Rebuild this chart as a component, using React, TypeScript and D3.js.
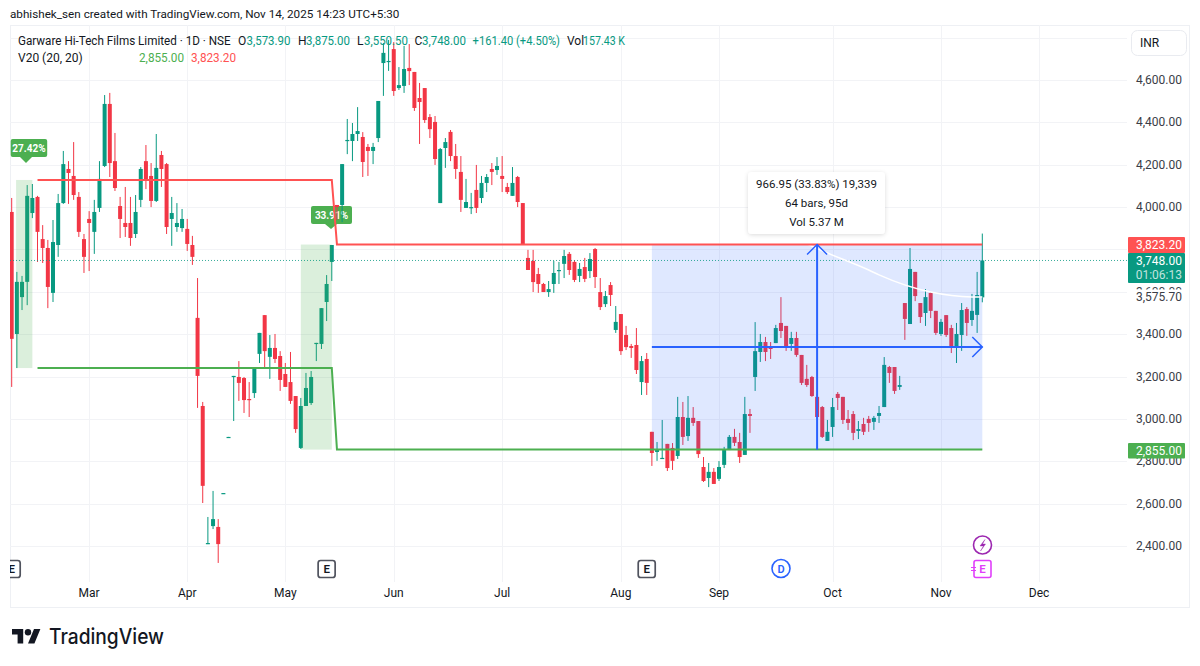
import React from "react";
import * as d3 from "d3";

const opens = [3977,3401,3575,3647,3972,4048,3849,3807,3595,3821,
4019,4180,4147,4048,3849,3944,3883,3996,4194,4487,
4217,4005,3925,3925,3873,4034,4217,4147,4029,4246,
4203,3944,3906,3901,3897,3821,3477,3061,2409,2494,
2490,2648,2913,3198,3198,3193,3094,3122,3307,3490,
3293,3335,3297,3212,3174,3108,2863,3061,3075,3354,
3354,3552,3741,4010,4010,4312,4312,4345,4331,4284,
4265,4326,4680,4685,4746,4562,4572,4657,4638,4515,
4562,4425,4402,4019,4279,4355,4241,4166,3996,3996,
4081,4043,4114,4180,4175,4147,4095,4053,4142,4019,
3760,3746,3684,3637,3599,3637,3698,3732,3779,3741,
3675,3717,3698,3802,3599,3542,3632,3420,3495,3396,
3344,3349,3174,3283,2939,2844,2811,2882,2863,2825,
3009,2919,3005,2990,2773,2721,2750,2717,2783,2853,
2915,2891,2830,3023,3198,3316,3363,3340,3358,3453,
3439,3354,3382,3302,3189,3198,3104,3056,2896,2962,
3118,3104,3000,3023,2943,2976,3000,2986,3014,3056,
3245,3245,3151,3547,3448,3694,3547,3500,3595,3510,
3401,3490,3429,3335,3396,3519,3467,3491,3573.9];

const closes = [3378,3647,3647,4053,4043,3883,3807,3623,3835,4019,
4203,4161,4057,3883,3765,3925,3977,4133,4487,4208,
4090,3944,3906,3854,3977,4180,4128,4029,4185,4180,
3906,3972,3925,3944,3826,3765,3203,2684,2414,2527,
2409,2650,2915,3203,3170,3089,3089,3240,3406,3320,
3335,3283,3184,3151,3085,2952,3061,3146,3198,3359,
3523,3637,3821,4000,4203,4317,4345,4359,4213,4265,
4284,4501,4728,4690,4548,4576,4652,4642,4468,4496,
4411,4368,4227,4274,4307,4241,4180,4034,4024,4000,
3996,4114,4142,4166,4194,4133,4071,4114,4024,3821,
3703,3646,3637,3599,3613,3689,3703,3769,3703,3656,
3708,3661,3755,3670,3528,3580,3585,3458,3320,3339,
3335,3231,3273,3170,2839,2853,2816,2768,2802,3009,
2915,3005,2981,2834,2707,2750,2693,2773,2853,2915,
2887,2820,3023,3014,3320,3363,3316,3330,3429,3415,
3340,3382,3302,3170,3160,3108,3009,2915,2939,3056,
3099,2995,2981,2934,2952,2939,2981,3005,3028,3255,
3217,3132,3160,3472,3708,3580,3481,3575,3510,3406,
3458,3396,3340,3401,3514,3453,3510,3585,3748];

const highs = [4043,3694,3675,4104,4109,4053,3915,3845,3939,4062,
4265,4217,4307,4071,3873,3981,4034,4217,4529,4539,
4350,4048,4095,4048,4057,4189,4293,4208,4345,4265,
4208,4048,4019,3991,3944,3864,3665,3080,2537,2660,
2527,2650,2915,3203,3273,3198,3174,3240,3406,3490,
3396,3401,3320,3264,3316,3108,3099,3217,3226,3359,
3523,3679,3821,4010,4203,4416,4397,4472,4354,4298,
4303,4501,4775,4789,4779,4661,4761,4770,4638,4586,
4562,4439,4430,4279,4326,4364,4298,4241,4133,4067,
4199,4147,4156,4208,4236,4241,4114,4189,4147,4019,
3798,3798,3713,3642,3651,3746,3741,3798,3788,3750,
3736,3760,3783,3807,3665,3604,3646,3533,3495,3439,
3354,3429,3297,3311,2939,2891,2995,2882,2886,3104,
3080,3108,3056,2990,2820,2792,2768,2801,2868,2924,
2953,2934,3104,3047,3457,3401,3387,3363,3444,3575,
3439,3411,3411,3302,3255,3203,3118,3061,2995,3099,
3127,3104,3042,3037,2990,3005,3014,3014,3061,3292,
3250,3245,3203,3547,3807,3694,3547,3613,3599,3510,
3472,3490,3444,3453,3547,3528,3590,3694,3875];

const lows = [3151,3240,3514,3537,3948,3741,3736,3523,3552,3765,
4015,4015,4034,3859,3689,3698,3779,3977,4189,4142,
4076,3854,3859,3817,3854,4000,4085,4000,4024,4095,
3873,3817,3883,3883,3793,3727,3052,2603,2409,2480,
2320,2648,2913,2990,3085,3028,3009,3099,3264,3240,
3189,3264,3132,3151,3071,2934,2858,3061,3066,3273,
3330,3462,3651,3939,3929,4250,4217,4312,4142,4147,
4203,4307,4525,4643,4525,4553,4539,4576,4454,4298,
4397,4326,4199,4019,4185,4217,4133,3977,3996,3967,
3972,4019,4071,4104,4152,4071,4062,4053,4000,3821,
3703,3599,3595,3599,3576,3595,3637,3665,3680,3646,
3646,3646,3665,3618,3514,3528,3533,3406,3302,3325,
3288,3212,3113,3113,2778,2802,2811,2754,2759,2811,
2877,2896,2967,2816,2702,2678,2693,2707,2768,2853,
2872,2792,2830,2934,3132,3269,3273,3283,3358,3382,
3321,3321,3293,3160,3151,3104,3000,2910,2896,2915,
3042,2976,2948,2900,2905,2924,2939,2948,2981,3056,
3170,3118,3137,3373,3448,3556,3453,3439,3476,3396,
3392,3387,3311,3264,3321,3392,3439,3406,3550.5];

const priceTicks = [4800,4600,4400,4200,4000,3800,3600,3400,3200,3000,2800,2600,2400];
const hiddenLabels = [4800,3800];
const monthLabels = ["Mar","Apr","May","Jun","Jul","Aug","Sep","Oct","Nov","Dec"];
const monthBars = [15,34,53,74,95,118,137,159,180,199];
const upperLevelBars = [5,62,63,188];
const upperLevelPrices = [4128,4128,3823.2,3823.2];
const lowerLevelBars = [5,62,63,188];
const lowerLevelPrices = [3240,3240,2855,2855];
const curveBars = [142,150,158,166,168,178,186,188];
const curvePrices = [3930,3868,3783,3703,3680,3599,3576,3575.7];
const earningsBars = [0,61,123];
const lastPrice = 3748, upper = 3823.2, lower = 2855;
const headerParts: [string, number, string, number | undefined][] = [
  ["Garware Hi-Tech Films Limited · 1D · NSE", 18, "#131722", 212.6],
  ["O", 238, "#131722", undefined], ["3,573.90", 246.5, "#089981", 44],
  ["H", 298, "#131722", undefined], ["3,875.00", 306, "#089981", 44],
  ["L", 357, "#131722", undefined], ["3,550.50", 364, "#089981", 44],
  ["C", 414.5, "#131722", undefined], ["3,748.00", 422, "#089981", 44],
  ["+161.40 (+4.50%)", 472.6, "#089981", 87.4],
  ["Vol", 567, "#131722", undefined], ["157.43 K", 583, "#089981", 42],
];
const tooltipLines = ["966.95 (33.83%) 19,339", "64 bars, 95d", "Vol 5.37 M"];

const FONT = "Roboto, sans-serif";
const GREEN = "#089981", RED = "#F23645", LGREEN = "#4CAF50", LRED = "#FF5252", BLUE = "#2962FF", GRID = "#f2f3f6";

const x = d3.scaleLinear().domain([0, 188]).range([11.7, 982.3]);
const y = d3.scaleLinear().domain([2400, 4600]).range([546, 80]);
const fmt = d3.format(",.2f");

function levelPath(bars: number[], prices: number[]) {
  const gen = d3.line<number>().x((b) => x(b)).y((_, i) => y(prices[i]));
  return gen(bars) || "";
}
const curvePath = d3.line<number>().x((b) => x(b)).y((_, i) => y(curvePrices[i])).curve(d3.curveMonotoneX)(curveBars) || "";

function EBox({ cx, color, fill }: { cx: number; color: string; fill?: string }) {
  return (
    <g>
      <rect x={cx - 8.5} y={560.5} width={17} height={17} rx={2.5} fill="#fff" stroke={color} strokeWidth={1.7} />
      <text x={cx} y={573} textAnchor="middle" fontSize={11.5} fontWeight={600} fill={fill || "#131722"} fontFamily={FONT}>E</text>
    </g>
  );
}

function Callout({ bx, by, w, h, tip, tipY, label }: { bx: number; by: number; w: number; h: number; tip: number; tipY: number; label: string }) {
  return (
    <g>
      <rect x={bx} y={by} width={w} height={h} rx={2} fill={LGREEN} />
      <path d={`M${tip - 6},${by + h}L${tip},${tipY}L${tip + 6},${by + h}Z`} fill={LGREEN} />
      <text x={bx + w / 2} y={by + h / 2 + 3.5} textAnchor="middle" fontSize={10} fontWeight={700} fill="#fff" fontFamily={FONT}>{label}</text>
    </g>
  );
}

export default function App() {
  const cx156 = x(156);
  const midP = (upper + lower) / 2;
  return (
    <svg width={1200} height={666} style={{ position: "absolute", left: 0, top: 0, background: "#fff" }} fontFamily={FONT}>
      <defs>
        <clipPath id="pane"><rect x={10} y={25} width={1117} height={557} /></clipPath>
        <filter id="sh" x="-10%" y="-20%" width="120%" height="150%">
          <feDropShadow dx={0} dy={1} stdDeviation={2} floodColor="#000" floodOpacity={0.14} />
        </filter>
      </defs>
      <text x={10} y={18} fontSize={11.7} fill="#131722">abhishek_sen created with TradingView.com, Nov 14, 2025 14:23 UTC+5:30</text>
      <rect x={10.5} y={25.5} width={1179} height={582} fill="#fff" stroke="#eef0f4" />

      <g stroke={GRID} strokeWidth={1}>
        {priceTicks.map((p) => <line key={p} x1={10} x2={1127} y1={Math.round(y(p)) + 0.5} y2={Math.round(y(p)) + 0.5} />)}
        {monthBars.map((b) => <line key={b} x1={Math.round(x(b)) + 0.5} x2={Math.round(x(b)) + 0.5} y1={25} y2={582} />)}
      </g>

      <g clipPath="url(#pane)">
        <Callout bx={10.7} by={139} w={36.5} h={18} tip={26} tipY={163} label="27.42%" />
        <Callout bx={311} by={206} w={41} h={18} tip={331} tipY={229} label="33.91%" />

        {opens.map((o, i) => {
          const c = closes[i];
          const col = c >= o ? GREEN : RED;
          const top = y(Math.max(o, c));
          const bot = y(Math.min(o, c));
          return (
            <g key={i}>
              <line x1={x(i)} x2={x(i)} y1={y(highs[i])} y2={y(lows[i])} stroke={col} strokeWidth={1} />
              <rect x={x(i) - 2} y={top} width={4} height={Math.max(bot - top, 1.2)} fill={col} />
            </g>
          );
        })}

        <rect x={x(0.85)} y={y(4128)} width={x(4) - x(0.85)} height={y(3240) - y(4128)} fill={LGREEN} fillOpacity={0.2} />
        <rect x={x(56)} y={y(upper)} width={x(62) - x(56)} height={y(lower) - y(upper)} fill={LGREEN} fillOpacity={0.2} />
        <rect x={x(124)} y={y(upper)} width={x(188) - x(124)} height={y(lower) - y(upper)} fill={BLUE} fillOpacity={0.15} />

        <line x1={10} x2={1127} y1={y(lastPrice)} y2={y(lastPrice)} stroke={GREEN} strokeWidth={1} strokeDasharray="1 2" strokeOpacity={0.8} />

        <path d={curvePath} fill="none" stroke="#fff" strokeWidth={1.5} />
        <path d={levelPath(upperLevelBars, upperLevelPrices)} fill="none" stroke={LRED} strokeWidth={2} />
        <path d={levelPath(lowerLevelBars, lowerLevelPrices)} fill="none" stroke={LGREEN} strokeWidth={2} />

        <g stroke={BLUE} strokeWidth={2} fill="none">
          <line x1={x(124)} x2={x(188)} y1={y(midP)} y2={y(midP)} />
          <path d={`M${x(188) - 10},${y(midP) - 10}L${x(188)},${y(midP)}L${x(188) - 10},${y(midP) + 10}`} strokeWidth={1.5} />
          <line x1={cx156} x2={cx156} y1={y(lower)} y2={y(upper)} />
          <path d={`M${cx156 - 10},${y(upper) + 10}L${cx156},${y(upper)}L${cx156 + 10},${y(upper) + 10}`} strokeWidth={1.5} />
        </g>

        {earningsBars.map((b) => <EBox key={b} cx={x(b)} color="#50535e" />)}
      </g>

      <g filter="url(#sh)"><rect x={748} y={172} width={137} height={62} rx={4} fill="#fff" /></g>
      {tooltipLines.map((t, i) => (
        <text key={t} x={816.5} y={188 + i * 19} textAnchor="middle" fontSize={11.5} fill="#131722">{t}</text>
      ))}

      {/* event markers */}
      <circle cx={781} cy={568.5} r={9} fill="#fff" stroke={BLUE} strokeWidth={1.6} />
      <text x={781} y={572.5} textAnchor="middle" fontSize={11} fontWeight={600} fill={BLUE}>D</text>
      <circle cx={982.5} cy={545} r={9} fill="#fff" stroke="#9C27B0" strokeWidth={1.6} />
      <path d="M985,539.5L980,546H983.5L980.5,551L985.5,544H982.5Z" fill="#9C27B0" stroke="#9C27B0" strokeWidth={0.4} />
      <rect x={974} y={560.5} width={17} height={17} rx={2} fill="#fff" stroke="#E040FB" strokeWidth={1.6} />
      <text x={982.5} y={573} textAnchor="middle" fontSize={11.5} fontWeight={600} fill="#E040FB">E</text>
      <path d="M971,567.5h5M971,570.5h5" stroke="#E040FB" strokeWidth={1} />

      {/* header */}
      {headerParts.map(([t, px, col, len]) => (
        <text key={t + px} x={px} y={45} fontSize={12} fill={col} textLength={len} lengthAdjust="spacingAndGlyphs">{t}</text>
      ))}
      <text x={18} y={61.5} fontSize={12} fill="#131722">V20 (20, 20)</text>
      <text x={139} y={61.5} fontSize={12} fill={LGREEN} textLength={45} lengthAdjust="spacingAndGlyphs">2,855.00</text>
      <text x={191} y={61.5} fontSize={12} fill={LRED} textLength={45} lengthAdjust="spacingAndGlyphs">3,823.20</text>

      {/* price axis */}
      <rect x={1131.5} y={30.5} width={55} height={25} rx={6} fill="#fff" stroke="#e9ebf0" />
      <text x={1140} y={47} fontSize={12} fill="#131722">INR</text>
      {priceTicks.filter((p) => !hiddenLabels.includes(p)).map((p) => (
        <text key={p} x={1182} y={y(p) + 4} textAnchor="end" fontSize={12} fill="#3a3d47">{fmt(p)}</text>
      ))}
      <rect x={1128} y={289.5} width={58} height={14} fill="#fff" />
      <text x={1182} y={y(3575.7) + 4} textAnchor="end" fontSize={12} fill="#3a3d47">{fmt(3575.7)}</text>

      <rect x={1128} y={237} width={57} height={16} rx={1} fill={LRED} />
      <text x={1182} y={249} textAnchor="end" fontSize={12} fill="#fff">{fmt(upper)}</text>
      <rect x={1128} y={253} width={57} height={30} rx={1} fill={GREEN} />
      <text x={1182} y={265} textAnchor="end" fontSize={12} fill="#fff">{fmt(lastPrice)}</text>
      <text x={1182} y={278.5} textAnchor="end" fontSize={12} fill="#fff" fillOpacity={0.75}>01:06:13</text>
      <rect x={1128} y={443} width={57} height={15.5} rx={1} fill={LGREEN} />
      <text x={1182} y={455} textAnchor="end" fontSize={12} fill="#fff">{fmt(lower)}</text>

      {/* time axis */}
      {monthLabels.map((m, i) => (
        <text key={m} x={x(monthBars[i])} y={597} textAnchor="middle" fontSize={12} fill="#131722">{m}</text>
      ))}

      {/* logo */}
      <g transform="translate(12,625.8) scale(0.8)" fill="#131722">
        <path d="M14 22H7V11H0V4h14v18zM28 22h-8l7.5-18h8L28 22z" />
        <circle cx={20} cy={8} r={4} />
      </g>
      <text x={49} y={643.5} fontSize={21} fontWeight={500} fill="#131722" fontFamily="Inter, sans-serif" textLength={115} lengthAdjust="spacingAndGlyphs">TradingView</text>
    </svg>
  );
}
